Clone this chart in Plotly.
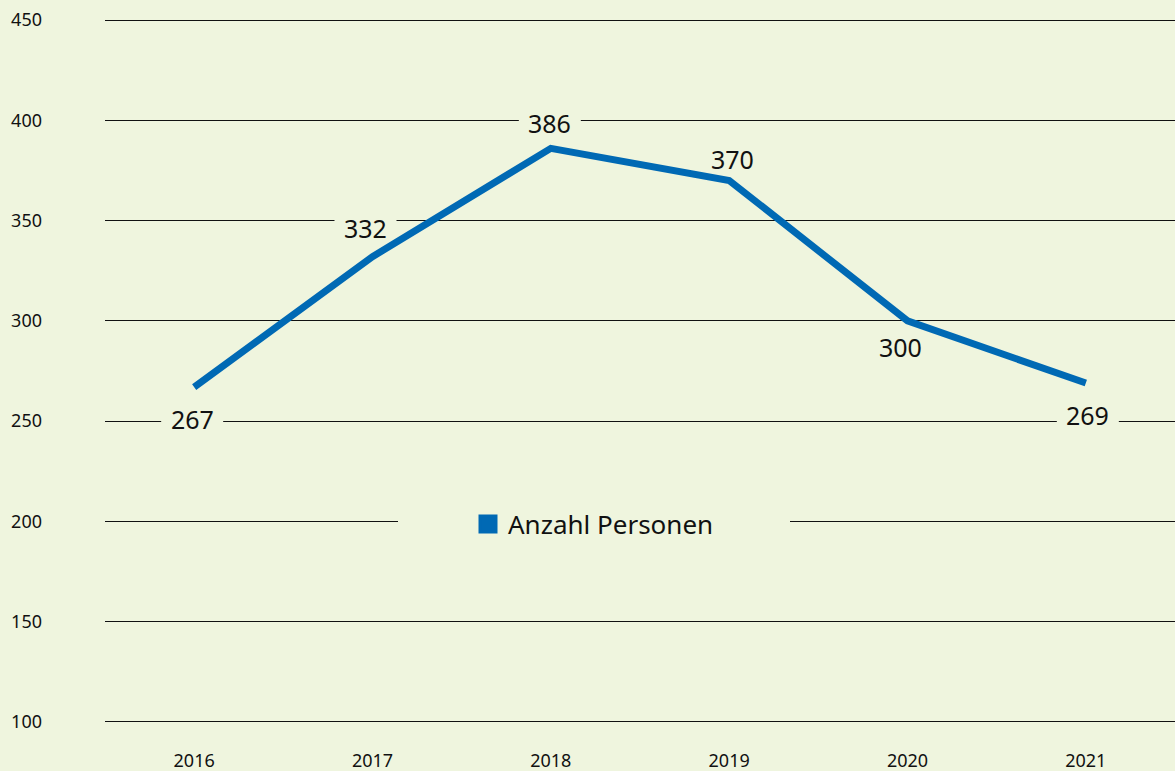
import plotly.graph_objects as go

years = ["2016", "2017", "2018", "2019", "2020", "2021"]
values = [267, 332, 386, 370, 300, 269]
series_name = "Anzahl Personen"
y_ticks = [100, 150, 200, 250, 300, 350, 400, 450]

BG = "#eff5de"
BLUE = "#0069b4"
FONT = "Noto Sans"
TXT = "#111111"

# label offsets (px) relative to each data point
label_shift = [(-2, -32), (-7, 29), (-1, 25), (3, 21), (-7, -26), (2, -32)]

fig = go.Figure()
fig.add_trace(go.Scatter(
    x=years, y=values, mode="lines",
    line=dict(color=BLUE, width=7),
    showlegend=False, hoverinfo="skip",
))
fig.add_trace(go.Scatter(
    x=[None], y=[None], mode="markers", name=series_name,
    marker=dict(symbol="square", size=16, color=BLUE, line=dict(color=BLUE, width=3)),
    showlegend=True,
))

for i, (v, (dx, dy)) in enumerate(zip(values, label_shift)):
    # background patch under the label: hides gridlines, stays beneath the line
    fig.add_shape(type="rect", layer="between",
                  xref="x", yref="y", xsizemode="pixel", ysizemode="pixel",
                  xanchor=i, yanchor=v, x0=dx - 31, x1=dx + 31, y0=dy - 12, y1=dy + 12,
                  fillcolor=BG, line=dict(width=0))
    fig.add_annotation(
        x=i, y=v, xref="x", yref="y", text=str(v), showarrow=False,
        xshift=dx, yshift=dy, font=dict(family=FONT, size=25, color=TXT),
    )

# background patch behind legend interrupting the gridline
fig.add_shape(type="rect", xref="paper", yref="y",
              x0=(398 - 105) / 1070, x1=(790 - 105) / 1070, y0=195, y1=205,
              fillcolor=BG, line=dict(width=0), layer="above")

fig.update_layout(
    width=1175, height=771,
    paper_bgcolor=BG, plot_bgcolor=BG,
    margin=dict(l=105, r=0, t=18, b=47),
    font=dict(family=FONT, color=TXT),
    legend=dict(
        x=(468 - 105) / 1070, xanchor="left", y=(724 - 524) / 706, yanchor="middle",
        bgcolor="rgba(0,0,0,0)", font=dict(family=FONT, size=26, color=TXT),
    ),
    xaxis=dict(
        type="category", range=[-0.5, 5.5], showgrid=False, showline=False, zeroline=False,
        ticks="", tickfont=dict(family=FONT, size=18, color=TXT), ticklabelstandoff=24,
    ),
    yaxis=dict(
        range=[99, 451], tickvals=y_ticks, ticktext=[str(t) for t in y_ticks],
        showgrid=True, gridcolor="#111111", gridwidth=1.3, zeroline=False, showline=False,
        ticks="", tickfont=dict(family=FONT, size=18, color=TXT), ticklabelstandoff=62,
    ),
)

fig.write_html(
    "out.html",
    config={"displayModeBar": False},
    post_script="document.body.style.margin='0';document.body.style.overflow='hidden';"
                "document.body.style.background='" + BG + "';",
)
